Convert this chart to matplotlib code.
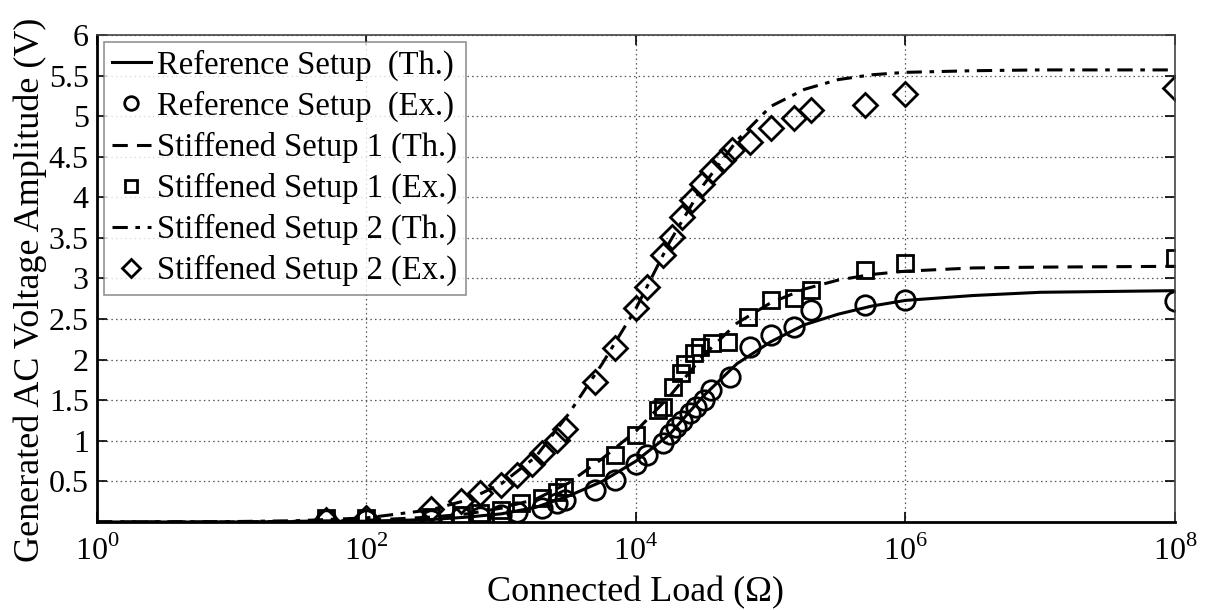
import numpy as np
import matplotlib
matplotlib.use('Agg')
import matplotlib.pyplot as plt
from matplotlib.ticker import FixedLocator, FixedFormatter

plt.rcParams['font.family'] = ['Liberation Serif', 'DejaVu Serif']
plt.rcParams['mathtext.fontset'] = 'custom'
plt.rcParams['mathtext.rm'] = 'Liberation Serif'

# theoretical curves (load in ohm)
th_load = [1, 10, 30, 100, 300, 560, 1000, 1800, 3160, 5620, 10000, 17800, 31600,
           56200, 100000, 178000, 316000, 562000, 1e6, 3.16e6, 1e7, 1e8]
ref_th = [0.0, 0.0, 0.005, 0.01, 0.03, 0.06, 0.10, 0.18, 0.32, 0.50, 0.75, 1.08, 1.55,
          1.95, 2.22, 2.43, 2.56, 2.66, 2.73, 2.79, 2.83, 2.85]
st1_th = [0.0, 0.0, 0.008, 0.02, 0.06, 0.10, 0.17, 0.28, 0.48, 0.78, 1.12, 1.55, 2.05,
          2.45, 2.70, 2.87, 2.98, 3.05, 3.09, 3.13, 3.14, 3.15]
st2_th = [0.0, 0.005, 0.015, 0.05, 0.15, 0.27, 0.47, 0.80, 1.33, 1.95, 2.63, 3.45, 4.15,
          4.70, 5.12, 5.33, 5.45, 5.51, 5.54, 5.56, 5.57, 5.57]

# measured points, reference setup
ref_load = [50, 100, 300, 500, 700, 1000, 1300, 2000, 2600, 3000, 5000, 7000, 10000, 12000,
            16000, 18000, 20000, 22000, 25000, 28000, 32000, 36000, 50000, 70000, 100000,
            150000, 200000, 500000, 1e6, 1e8]
ref_ex = [0.03, 0.03, 0.03, 0.06, 0.06, 0.09, 0.12, 0.17, 0.23, 0.27, 0.39, 0.52, 0.72, 0.83,
          0.97, 1.09, 1.17, 1.25, 1.34, 1.42, 1.50, 1.62, 1.79, 2.16, 2.30,
          2.40, 2.61, 2.67, 2.73, 2.72]

# measured points, stiffened setup 1
st1_load = [50, 100, 300, 500, 700, 1000, 1400, 2000, 2600, 2900, 5000, 7000, 10000, 14500,
            16000, 19000, 21500, 23000, 27000, 30000, 37000, 48000, 68000, 100000, 150000,
            200000, 500000, 1e6, 1e8]
st1_ex = [0.05, 0.05, 0.06, 0.09, 0.11, 0.15, 0.23, 0.30, 0.37, 0.43, 0.68, 0.83, 1.07, 1.38,
          1.42, 1.66, 1.83, 1.95, 2.08, 2.16, 2.20, 2.22, 2.53, 2.73, 2.76,
          2.86, 3.10, 3.19, 3.25]

# measured points, stiffened setup 2
st2_load = [50, 100, 300, 500, 700, 1000, 1300, 1700, 2000, 2600, 3000, 5000, 7000, 10000,
            12000, 16000, 18500, 22000, 26000, 31000, 37000, 44000, 52000, 70000, 100000,
            150000, 200000, 500000, 1e6, 1e8]
st2_ex = [0.03, 0.05, 0.16, 0.26, 0.36, 0.46, 0.58, 0.71, 0.85, 1.01, 1.15, 1.72, 2.14, 2.64,
          2.89, 3.29, 3.51, 3.76, 3.97, 4.17, 4.33, 4.46, 4.58, 4.68, 4.85,
          4.98, 5.08, 5.14, 5.27, 5.35]

y_ticks = [0.5, 1, 1.5, 2, 2.5, 3, 3.5, 4, 4.5, 5, 5.5, 6]
y_labels = ['0.5', '1', '1.5', '2', '2.5', '3', '3.5', '4', '4.5', '5', '5.5', '6']
x_ticks = [1, 1e2, 1e4, 1e6, 1e8]
x_labels = ['$10^0$', '$10^2$', '$10^4$', '$10^6$', '$10^8$']

fig = plt.figure(figsize=(12.05, 6.1), dpi=100)
ax = fig.add_axes([0.0805, 0.1443, 0.8945, 0.7983])

lw = 2.2
mk = dict(linestyle='none', color='black', markerfacecolor='none', markeredgewidth=2.0)

ax.plot(th_load, ref_th, color='black', linewidth=lw, label='Reference Setup  (Th.)')
ax.plot(ref_load, ref_ex, marker='o', markersize=14, label='Reference Setup  (Ex.)', **mk)
ax.plot(th_load, st1_th, color='black', linewidth=lw, dashes=(5, 3),
        label='Stiffened Setup 1 (Th.)')
ax.plot(st1_load, st1_ex, marker='s', markersize=12, label='Stiffened Setup 1 (Ex.)', **mk)
ax.plot(th_load, st2_th, color='black', linewidth=lw, dashes=(5, 2.5, 1.5, 2.5),
        label='Stiffened Setup 2 (Th.)')
ax.plot(st2_load, st2_ex, marker='D', markersize=12.5, label='Stiffened Setup 2 (Ex.)', **mk)

ax.set_xscale('log')
ax.set_xlim(1, 1e8)
ax.set_ylim(0, 6)

ax.xaxis.set_major_locator(FixedLocator(x_ticks))
ax.xaxis.set_major_formatter(FixedFormatter(x_labels))
ax.xaxis.set_minor_locator(FixedLocator([]))
ax.yaxis.set_major_locator(FixedLocator(y_ticks))
ax.yaxis.set_major_formatter(FixedFormatter(y_labels))

ax.tick_params(direction='in', length=7, width=1.2, labelsize=23, top=True, right=True)
ax.tick_params(axis='x', pad=10)
ax.tick_params(axis='y', pad=6)
ax.grid(True, color='#555555', linestyle=(0, (1.2, 2.5)), linewidth=0.9)

for side in ['left', 'bottom']:
    ax.spines[side].set_linewidth(2.0)
for side in ['top', 'right']:
    ax.spines[side].set_linewidth(1.2)
    ax.spines[side].set_color('#444444')

# axis titles are bigger than the tick labels in the original
ax.set_xlabel('Connected Load (Ω)', fontsize=26)
ax.xaxis.set_label_coords(0.5, -0.112)
ax.set_ylabel('Generated AC Voltage Amplitude (V)', fontsize=26)
ax.yaxis.set_label_coords(-0.062, 0.476)
ax.yaxis.label.set_va('center')

leg = ax.legend(loc='upper left', fontsize=23.5, frameon=True, fancybox=False,
                handlelength=1.2, handletextpad=0.2, borderpad=0.25, labelspacing=0.3,
                borderaxespad=0.2, markerscale=0.7)
leg.get_frame().set_edgecolor('#777777')
leg.get_frame().set_linewidth(1.2)

fig.savefig('out.png', dpi=100)
